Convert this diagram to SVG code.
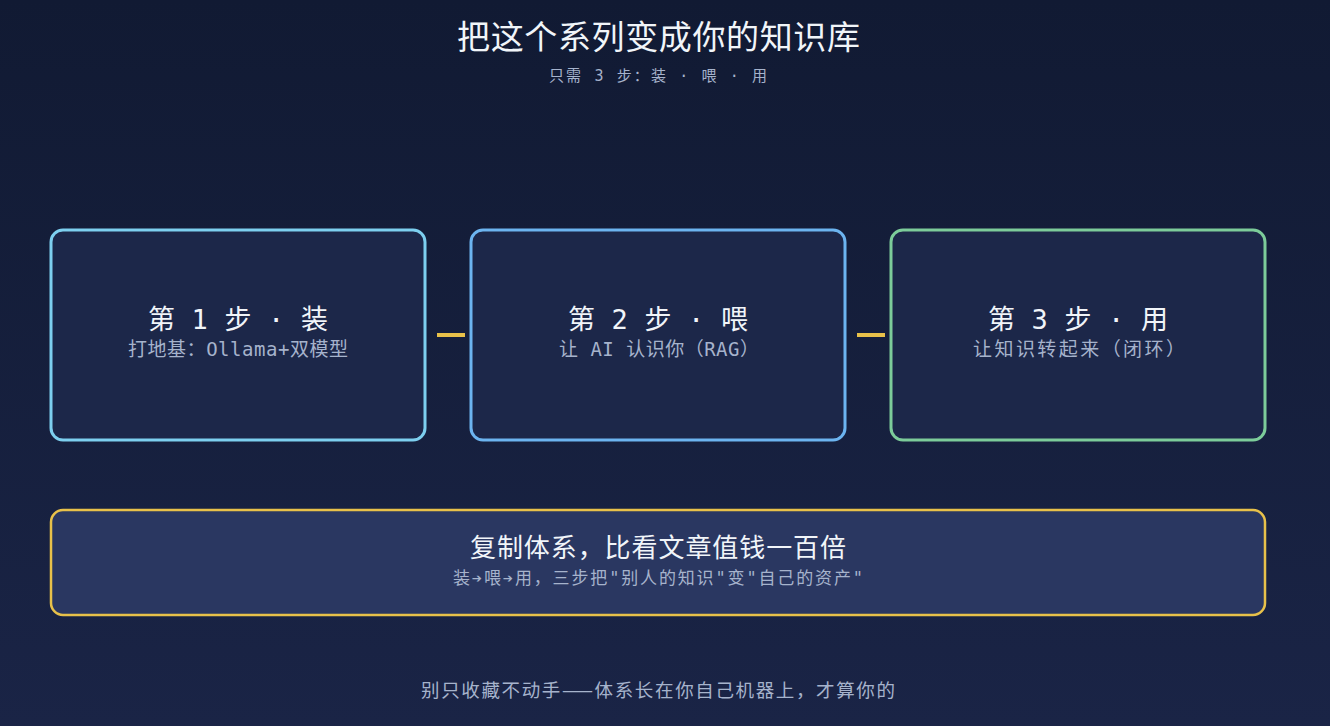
<svg xmlns="http://www.w3.org/2000/svg" width="1330" height="726" viewBox="0 0 1330 726">
<defs>
<linearGradient id="bg" x1="0" y1="0" x2="0" y2="1">
<stop offset="0" stop-color="#111a33"/>
<stop offset="1" stop-color="#1a2446"/>
</linearGradient>
<style>
text{font-family:"DejaVu Sans Mono","Noto Sans CJK SC",monospace;text-anchor:middle}
.cjk{font-family:"Noto Sans CJK SC",sans-serif}
.step{fill:#1c2749;stroke-width:3}
.h{fill:#f1f5f9;font-size:27px}
.s{fill:#a6b3cc;font-size:19px}
.conn{stroke:#e8c14a;stroke-width:4}
</style>
</defs>
<rect width="1330" height="726" fill="url(#bg)"/>
<g id="title">
<text class="cjk" x="658.5" y="49" fill="#f1f5f9" style="font-size:33px" textLength="403" lengthAdjust="spacing">把这个系列变成你的知识库</text>
<text x="658" y="81" fill="#a6b3cc" style="font-size:15px" textLength="218" lengthAdjust="spacing">只需 3 步：装 · 喂 · 用</text>
</g>
<g id="connectors">
<line class="conn" x1="437" y1="335" x2="465" y2="335"/>
<line class="conn" x1="857" y1="335" x2="885" y2="335"/>
</g>
<g id="step1">
<rect class="step" x="51" y="230" width="374" height="210" rx="12" stroke="#7dcfef"/>
<text class="h" x="238" y="329" textLength="180" lengthAdjust="spacing">第 1 步 · 装</text>
<text class="s" x="238" y="356" textLength="220" lengthAdjust="spacing">打地基：Ollama+双模型</text>
</g>
<g id="step2">
<rect class="step" x="471" y="230" width="374" height="210" rx="12" stroke="#6cb4f0"/>
<text class="h" x="658" y="329" textLength="180" lengthAdjust="spacing">第 2 步 · 喂</text>
<text class="s" x="659" y="356" textLength="200" lengthAdjust="spacing">让 AI 认识你（RAG）</text>
</g>
<g id="step3">
<rect class="step" x="891" y="230" width="374" height="210" rx="12" stroke="#7ccc9a"/>
<text class="h" x="1078" y="329" textLength="180" lengthAdjust="spacing">第 3 步 · 用</text>
<text class="s cjk" x="1079" y="356" textLength="212" lengthAdjust="spacing">让知识转起来（闭环）</text>
</g>
<g id="summary">
<rect x="51" y="510" width="1214" height="105" rx="12" fill="#2a3761" stroke="#e8c14a" stroke-width="2.5"/>
<text class="cjk" x="658" y="557" fill="#f1f5f9" style="font-size:26px" textLength="376" lengthAdjust="spacing">复制体系，比看文章值钱一百倍</text>
<text x="658" y="584" fill="#a6b3cc" style="font-size:17px" textLength="410" lengthAdjust="spacing">装➔喂➔用，三步把"别人的知识"变"自己的资产"</text>
</g>
<g id="footer">
<text class="cjk" x="658" y="697" fill="#a6b3cc" style="font-size:18.5px" textLength="474" lengthAdjust="spacing">别只收藏不动手——体系长在你自己机器上，才算你的</text>
</g>
</svg>
